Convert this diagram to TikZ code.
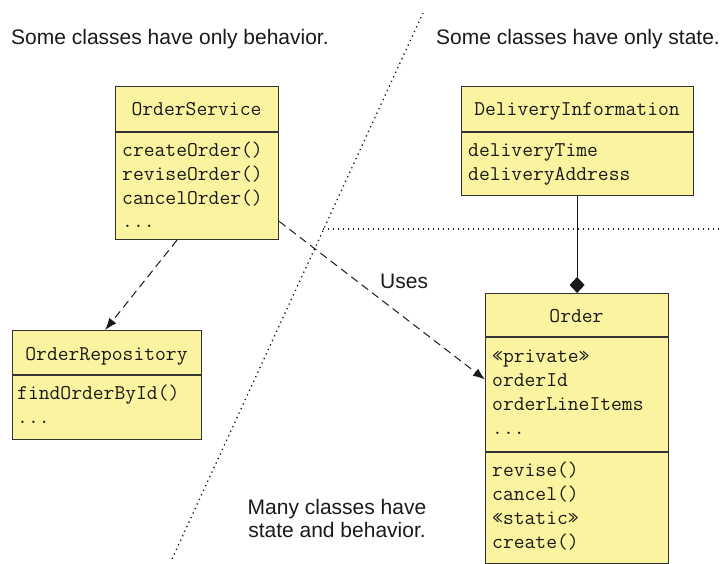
\documentclass[tikz,border=0pt]{standalone}
\usepackage{fontspec}
\setmainfont{Liberation Sans}
\usetikzlibrary{arrows.meta,calc}
\definecolor{classfill}{HTML}{FAF4A0}
\definecolor{boxline}{HTML}{333333}
\definecolor{ink}{HTML}{1A1A1A}
\begin{document}
\begin{tikzpicture}[x=1pt,y=-1pt,
 classbox/.style={draw=boxline, fill=classfill, line width=1.2pt, inner sep=0pt, anchor=north west},
 sepline/.style={draw=boxline, line width=1.2pt},
 mono/.style={font=\fontsize{21}{23}\ttfamily, text=ink, inner sep=0pt, anchor=base west},
 monoc/.style={mono, anchor=base},
 sans/.style={font=\fontsize{21}{23}\selectfont, text=ink, inner sep=0pt, anchor=base west},
 sansc/.style={sans, anchor=base},
 dep/.style={draw=ink, line width=1pt, dash pattern=on 8pt off 5pt, -{Latex[length=12pt,width=9pt]}},
 dotline/.style={draw=ink, line width=1.3pt, dash pattern=on 1.3pt off 3.7pt},
]
\useasboundingbox (0,0) rectangle (722,564);

% captions
\node[sans] (capB) at (11,45) {Some classes have only behavior.};
\node[sans] (capS) at (436,45) {Some classes have only state.};
\node[sansc] (capM1) at (337,514) {Many classes have};
\node[sansc] (capM2) at (337,537) {state and behavior.};

% separators of the regions
\draw[dotline] (172,559) -- (423,13);
\draw[dotline] (323,229) -- (722,229);

% OrderService
\node[classbox, minimum width=163pt, minimum height=153pt] (os) at (115,86) {};
\draw[sepline] (os.west |- 0,132) -- (os.east |- 0,132);
\node[monoc] (osT) at (196.5,116) {OrderService};
\node[mono] (os1) at (122,157) {createOrder()};
\node[mono] (os2) at (122,180.7) {reviseOrder()};
\node[mono] (os3) at (122,204.3) {cancelOrder()};
\node[mono] (os4) at (122,227) {...};

% DeliveryInformation
\node[classbox, minimum width=232pt, minimum height=109pt] (di) at (461,86) {};
\draw[sepline] (di.west |- 0,132) -- (di.east |- 0,132);
\node[monoc] (diT) at (577,116) {DeliveryInformation};
\node[mono] (di1) at (468,156.7) {deliveryTime};
\node[mono] (di2) at (468,180.7) {deliveryAddress};

% OrderRepository
\node[classbox, minimum width=189pt, minimum height=109pt] (rep) at (12,330) {};
\draw[sepline] (rep.west |- 0,375) -- (rep.east |- 0,375);
\node[monoc] (repT) at (106.5,360) {OrderRepository};
\node[mono] (rep1) at (17,399) {findOrderById()};
\node[mono] (rep2) at (17,423) {...};

% Order
\node[classbox, minimum width=183pt, minimum height=270pt] (order) at (485,293) {};
\draw[sepline] (order.west |- 0,337) -- (order.east |- 0,337);
\draw[sepline] (order.west |- 0,452) -- (order.east |- 0,452);
\node[monoc] (orderT) at (576.5,322.7) {Order};
\node[mono] (or1) at (492,362.7) {«private»};
\node[mono] (or2) at (492,386.5) {orderId};
\node[mono] (or3) at (492,410) {orderLineItems};
\node[mono] (or4) at (492,434) {...};
\node[mono] (or5) at (492,476) {revise()};
\node[mono] (or6) at (492,500) {cancel()};
\node[mono] (or7) at (492,524) {«static»};
\node[mono] (or8) at (492,548) {create()};

% connectors
\draw[dep] ($(os.south west)!0.377!(os.south east)$) -- ($(rep.north west)!0.49!(rep.north east)$);
\draw[dep] ($(os.north east)!0.878!(os.south east)$) -- ($(order.north west)!0.319!(order.south west)$);
\node[sans] (uses) at (380,288) {Uses};
\draw[draw=ink, line width=1.2pt, -{Diamond[length=16pt,width=15pt]}] (di.south -| order.north) -- (order.north);
\end{tikzpicture}
\end{document}
